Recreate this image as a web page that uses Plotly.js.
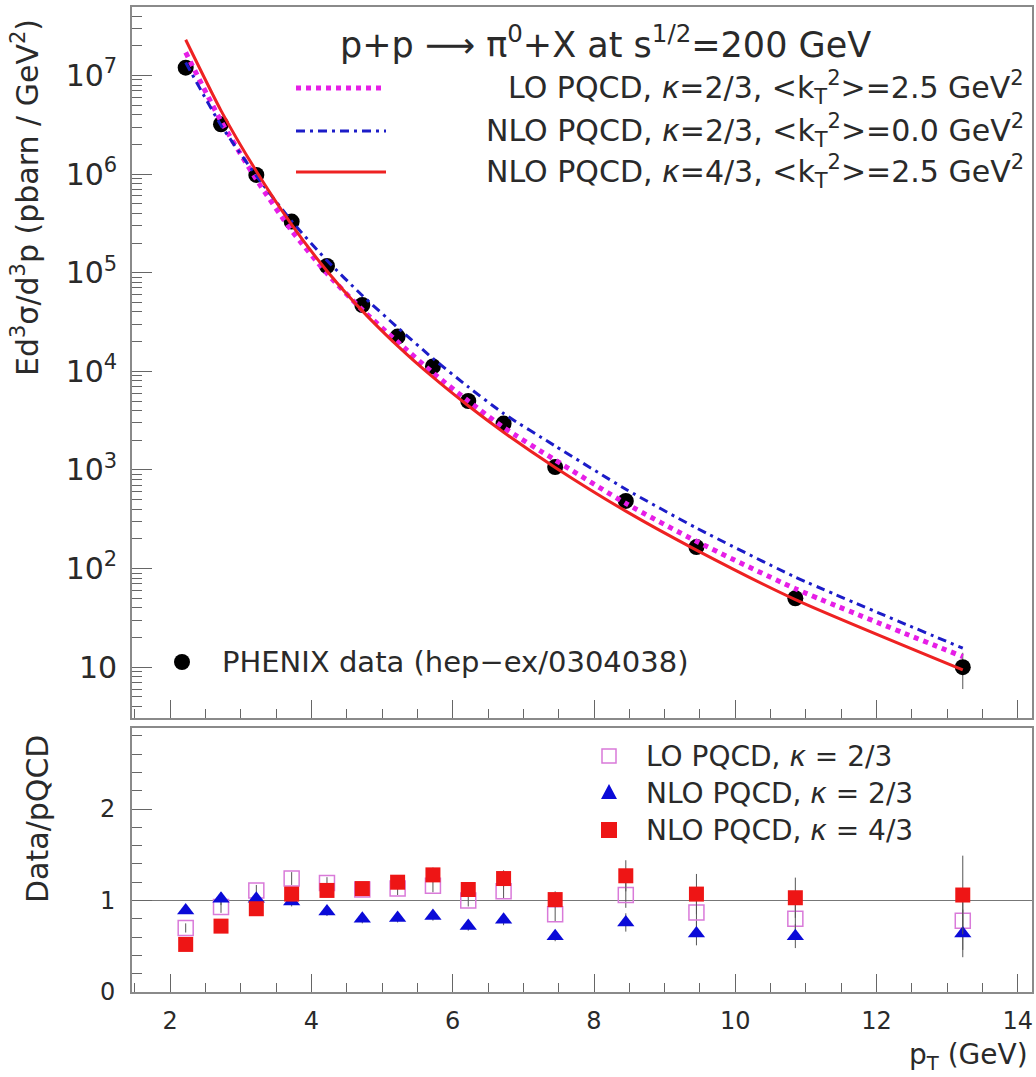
<!DOCTYPE html>
<html>
<head>
<meta charset="utf-8">
<script src="https://cdn.plot.ly/plotly-3.0.1.min.js"></script>
<style>html,body{margin:0;padding:0;background:#fff;}#chart{width:1036px;height:1077px;}</style>
</head>
<body>
<div id="chart"></div>
<script>
// ---- data ----
var pT = [2.22, 2.72, 3.22, 3.72, 4.22, 4.72, 5.22, 5.72, 6.22, 6.72, 7.45, 8.45, 9.45, 10.85, 13.22];
var phenix = [1.2e7, 3.2e6, 9.8e5, 3.3e5, 1.17e5, 4.7e4, 2.25e4, 1.12e4, 5.0e3, 2.95e3, 1.07e3, 485, 165, 50, 10];
var phenixErr = [1.0e6, 2.5e5, 7e4, 2.5e4, 9e3, 3.6e3, 1.8e3, 1.0e3, 5e2, 3e2, 1.2e2, 60, 25, 8, 4];

var loK23 = [1.71e7, 3.44e6, 8.83e5, 2.67e5, 9.82e4, 4.20e4, 1.99e4, 9.66e3, 5.0e3, 2.69e3, 1.26e3, 458, 189, 62.5, 12.8];
var nloK23 = [1.35e7, 3.13e6, 9.6e5, 3.33e5, 1.33e5, 5.87e4, 2.78e4, 1.35e4, 6.95e3, 3.73e3, 1.75e3, 638, 258, 82, 15.6];
var nloK43 = [2.30e7, 4.40e6, 1.07e6, 3.08e5, 1.04e5, 4.10e4, 1.81e4, 8.71e3, 4.47e3, 2.41e3, 1.06e3, 382, 154, 48.5, 9.4];

var ratioLO = [0.70, 0.93, 1.11, 1.24, 1.19, 1.12, 1.13, 1.16, 1.00, 1.10, 0.85, 1.06, 0.87, 0.80, 0.78];
var ratioLOErr = [0.05, 0.065, 0.06, 0.07, 0.065, 0.07, 0.07, 0.07, 0.065, 0.08, 0.075, 0.14, 0.18, 0.17, 0.32];
var ratioNLO23 = [0.89, 1.02, 1.02, 0.99, 0.88, 0.80, 0.81, 0.83, 0.72, 0.79, 0.61, 0.76, 0.64, 0.61, 0.64];
var ratioNLO23Err = [0.035, 0.07, 0.06, 0.055, 0.05, 0.05, 0.05, 0.05, 0.05, 0.06, 0.055, 0.10, 0.13, 0.13, 0.26];
var ratioNLO43 = [0.52, 0.72, 0.91, 1.07, 1.11, 1.13, 1.20, 1.28, 1.12, 1.24, 1.01, 1.27, 1.07, 1.03, 1.06];
var ratioNLO43Err = [0.04, 0.05, 0.05, 0.06, 0.06, 0.07, 0.07, 0.08, 0.08, 0.09, 0.09, 0.17, 0.22, 0.22, 0.43];
var refLevel = 1;

var FONT = '"DejaVu Sans", "Liberation Sans", sans-serif';
var TXT = '#2a2a2a';
var cMag = '#e61ee6', cBlue = '#1c1cc8', cRed = '#ee2222', cPink = '#d97ad9', cTri = '#0a0ad8', cSq = '#ee1515';

// pixel -> paper helpers (plot area 132..1032 x, 7..992 y)
function px(x){ return (x - 132) / 900; }
function py(y){ return (992 - y) / 985; }

var errStyle = {type:'data', visible:true, color:'#555', thickness:1, width:0};

var traces = [
  {x:pT, y:phenix, xaxis:'x2', yaxis:'y', mode:'markers', type:'scatter',
   marker:{color:'#000', size:16, symbol:'circle'},
   error_y:Object.assign({array:phenixErr}, errStyle), showlegend:false},
  {x:pT, y:loK23, xaxis:'x2', yaxis:'y', mode:'lines', type:'scatter',
   line:{color:cMag, width:5, dash:'dot', shape:'spline', smoothing:0.6}, showlegend:false},
  {x:pT, y:nloK23, xaxis:'x2', yaxis:'y', mode:'lines', type:'scatter',
   line:{color:cBlue, width:3, dash:'9px,5px,3px,5px', shape:'spline', smoothing:0.6}, showlegend:false},
  {x:pT, y:nloK43, xaxis:'x2', yaxis:'y', mode:'lines', type:'scatter',
   line:{color:cRed, width:3, shape:'spline', smoothing:0.6}, showlegend:false},

  {x:pT, y:ratioLO, xaxis:'x', yaxis:'y2', mode:'markers', type:'scatter',
   marker:{color:cPink, size:15, symbol:'square-open', line:{color:cPink, width:1.5}},
   error_y:Object.assign({array:ratioLOErr}, errStyle), showlegend:false},
  {x:pT, y:ratioNLO23, xaxis:'x', yaxis:'y2', mode:'markers', type:'scatter',
   marker:{color:cTri, size:15, symbol:'triangle-up'},
   error_y:Object.assign({array:ratioNLO23Err}, errStyle), showlegend:false},
  {x:pT, y:ratioNLO43, xaxis:'x', yaxis:'y2', mode:'markers', type:'scatter',
   marker:{color:cSq, size:15, symbol:'square'},
   error_y:Object.assign({array:ratioNLO43Err}, errStyle), showlegend:false}
];

var axisCommon = {
  showline:true, mirror:true, linecolor:'#8a8a8a', linewidth:2,
  showgrid:false, zeroline:false, ticks:'inside', tickcolor:'#666', tickwidth:1,
  tickfont:{family:FONT, size:24, color:TXT}
};

var layout = {
  width:1036, height:1077,
  margin:{l:132, r:4, t:7, b:85},
  paper_bgcolor:'#fff', plot_bgcolor:'#fff',
  font:{family:FONT, color:TXT},
  showlegend:false,
  xaxis: Object.assign({}, axisCommon, {
    anchor:'y2', domain:[0,1], range:[1.46, 14.2], tick0:0, dtick:2, ticklen:18,
    ticklabelstandoff:6,
    minor:{dtick:0.5, tick0:0, ticks:'inside', ticklen:9, tickcolor:'#666'}
  }),
  xaxis2: Object.assign({}, axisCommon, {
    anchor:'y', matches:'x', domain:[0,1], range:[1.46, 14.2], tick0:0, dtick:2, ticklen:18,
    showticklabels:false,
    minor:{dtick:0.5, tick0:0, ticks:'inside', ticklen:9, tickcolor:'#666'}
  }),
  yaxis: Object.assign({}, axisCommon, {
    anchor:'x2', domain:[0.278, 1], type:'log', range:[0.483, 7.694], dtick:1,
    exponentformat:'power', ticklen:20, ticklabelstandoff:8,
    minor:{dtick:'D1', ticks:'inside', ticklen:10, tickcolor:'#666'}
  }),
  yaxis2: Object.assign({}, axisCommon, {
    anchor:'x', domain:[0, 0.268], range:[0, 2.885], tick0:0, dtick:1, ticklen:20,
    ticklabelstandoff:10,
    minor:{dtick:0.2, tick0:0, ticks:'inside', ticklen:10, tickcolor:'#666'}
  }),
  shapes:[
    {type:'line', xref:'paper', x0:0, x1:1, yref:'y2', y0:refLevel, y1:refLevel, line:{color:'#777', width:1}, layer:'below'},
    // legend keys (upper)
    {type:'line', xref:'paper', yref:'paper', x0:px(296), x1:px(386), y0:py(88), y1:py(88), line:{color:cMag, width:5, dash:'dot'}},
    {type:'line', xref:'paper', yref:'paper', x0:px(296), x1:px(386), y0:py(131), y1:py(131), line:{color:cBlue, width:3, dash:'9px,5px,3px,5px'}},
    {type:'line', xref:'paper', yref:'paper', x0:px(296), x1:px(386), y0:py(172), y1:py(172), line:{color:cRed, width:3}},
    {type:'circle', xref:'paper', yref:'paper', xsizemode:'pixel', ysizemode:'pixel',
     xanchor:px(182), yanchor:py(662), x0:-8, x1:8, y0:-8, y1:8, fillcolor:'#000', line:{color:'#000', width:0}},
    // legend keys (lower)
    {type:'rect', xref:'paper', yref:'paper', xsizemode:'pixel', ysizemode:'pixel',
     xanchor:px(609), yanchor:py(756), x0:-7, x1:7, y0:-7, y1:7, line:{color:cPink, width:1.5}},
    {type:'path', xref:'paper', yref:'paper', xsizemode:'pixel', ysizemode:'pixel',
     xanchor:px(609), yanchor:py(793), path:'M -8 -6 L 8 -6 L 0 9 Z', fillcolor:cTri, line:{color:cTri, width:0}},
    {type:'rect', xref:'paper', yref:'paper', xsizemode:'pixel', ysizemode:'pixel',
     xanchor:px(609), yanchor:py(830), x0:-8, x1:8, y0:-8, y1:8, fillcolor:cSq, line:{color:cSq, width:0}}
  ],
  annotations:[
    {xref:'paper', yref:'paper', x:px(605), y:py(42), xanchor:'center', yanchor:'middle', showarrow:false,
     text:'p+p ⟶ π<sup>0</sup>+X at s<sup>1/2</sup>=200 GeV', font:{family:FONT, size:35, color:TXT}},
    {xref:'paper', yref:'paper', x:px(1026), y:py(88), xanchor:'right', yanchor:'middle', showarrow:false,
     text:'LO PQCD, <i>κ</i>=2/3, &lt;k<sub>T</sub><sup>2</sup>&gt;=2.5 GeV<sup>2</sup>', font:{family:FONT, size:30, color:TXT}},
    {xref:'paper', yref:'paper', x:px(1026), y:py(131), xanchor:'right', yanchor:'middle', showarrow:false,
     text:'NLO PQCD, <i>κ</i>=2/3, &lt;k<sub>T</sub><sup>2</sup>&gt;=0.0 GeV<sup>2</sup>', font:{family:FONT, size:30, color:TXT}},
    {xref:'paper', yref:'paper', x:px(1026), y:py(172), xanchor:'right', yanchor:'middle', showarrow:false,
     text:'NLO PQCD, <i>κ</i>=4/3, &lt;k<sub>T</sub><sup>2</sup>&gt;=2.5 GeV<sup>2</sup>', font:{family:FONT, size:30, color:TXT}},
    {xref:'paper', yref:'paper', x:px(220), y:py(662), xanchor:'left', yanchor:'middle', showarrow:false,
     text:'PHENIX data (hep−ex/0304038)', font:{family:FONT, size:29, color:TXT}},
    {xref:'paper', yref:'paper', x:px(644), y:py(756), xanchor:'left', yanchor:'middle', showarrow:false,
     text:'LO PQCD, <i>κ</i> = 2/3', font:{family:FONT, size:28, color:TXT}},
    {xref:'paper', yref:'paper', x:px(644), y:py(793), xanchor:'left', yanchor:'middle', showarrow:false,
     text:'NLO PQCD, <i>κ</i> = 2/3', font:{family:FONT, size:28, color:TXT}},
    {xref:'paper', yref:'paper', x:px(644), y:py(830), xanchor:'left', yanchor:'middle', showarrow:false,
     text:'NLO PQCD, <i>κ</i> = 4/3', font:{family:FONT, size:28, color:TXT}},
    {xref:'paper', yref:'paper', x:px(26), y:py(198), xanchor:'center', yanchor:'middle', showarrow:false, textangle:-90,
     text:'Ed<sup>3</sup>σ/d<sup>3</sup>p (pbarn / GeV<sup>2</sup>)', font:{family:FONT, size:30, color:TXT}},
    {xref:'paper', yref:'paper', x:px(38), y:py(819), xanchor:'center', yanchor:'middle', showarrow:false, textangle:-90,
     text:'Data/pQCD', font:{family:FONT, size:30, color:TXT}},
    {xref:'paper', yref:'paper', x:px(1030), y:py(1056), xanchor:'right', yanchor:'middle', showarrow:false,
     text:'p<sub>T</sub> (GeV)', font:{family:FONT, size:28, color:TXT}}
  ]
};

Plotly.newPlot('chart', traces, layout, {displayModeBar:false, staticPlot:true});
</script>
</body>
</html>
